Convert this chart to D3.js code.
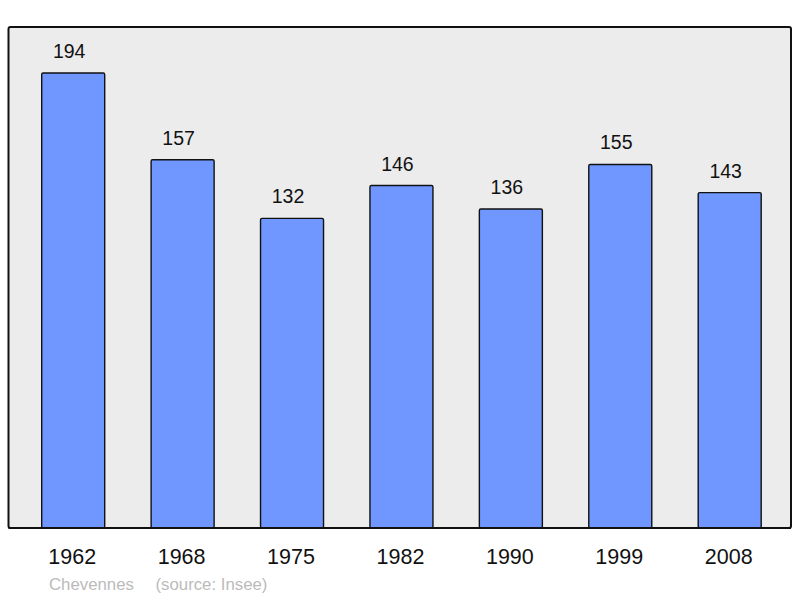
<!doctype html>
<html>
<head>
<meta charset="utf-8">
<script src="https://d3js.org/d3.v7.min.js"></script>
<style>
  body { margin: 0; background: #fff; }
  text { font-family: "Liberation Sans", Arial, sans-serif; }
</style>
</head>
<body>
<svg class="chart"></svg>
<script>
    var years = ["1962", "1968", "1975", "1982", "1990", "1999", "2008"];
    var population = [194, 157, 132, 146, 136, 155, 143];
    var commune = "Chevennes";
    var source = "(source: Insee)";

    var width = 800, height = 598;
    var frame = {left: 8.5, top: 27, right: 791, bottom: 528};

    var svg = d3.select(".chart").attr("width", width).attr("height", height);

    var xScale = d3.scalePoint().domain(years).range([73.2, 729.7]);
    var yScale = d3.scaleLinear().domain([0, 213.6]).range([frame.bottom, frame.top]);
    var barWidth = 63;

    svg.append("rect")
        .attr("x", frame.left)
        .attr("y", frame.top)
        .attr("width", frame.right - frame.left)
        .attr("height", frame.bottom - frame.top)
        .attr("rx", 2)
        .attr("fill", "#ececec")
        .attr("stroke", "#111")
        .attr("stroke-width", 2);

    var data = years.map(function(y, i) { return {year: y, value: population[i]}; });

    svg.selectAll("rect.bar")
        .data(data)
        .enter().append("rect")
        .attr("class", "bar")
        .attr("x", d => xScale(d.year) - barWidth / 2)
        .attr("y", d => yScale(d.value))
        .attr("width", barWidth)
        .attr("height", d => frame.bottom - yScale(d.value))
        .attr("rx", 1.5)
        .attr("fill", "#7097ff")
        .attr("stroke", "#111")
        .attr("stroke-width", 1.4);

    svg.selectAll("text.val")
        .data(data)
        .enter().append("text")
        .attr("class", "val")
        .attr("x", d => xScale(d.year) - 4)
        .attr("y", d => yScale(d.value) - 15)
        .attr("text-anchor", "middle")
        .attr("font-size", 19.5)
        .attr("fill", "#111")
        .text(d => d.value);

    // redraw frame edge over bar bottoms
    svg.append("line")
        .attr("x1", frame.left).attr("x2", frame.right)
        .attr("y1", frame.bottom).attr("y2", frame.bottom)
        .attr("stroke", "#111").attr("stroke-width", 2);

    svg.selectAll("text.year")
        .data(years)
        .enter().append("text")
        .attr("class", "year")
        .attr("x", d => xScale(d) - 1)
        .attr("y", 563.5)
        .attr("text-anchor", "middle")
        .attr("font-size", 21.5)
        .attr("fill", "#111")
        .text(d => d);

    svg.append("text")
        .attr("x", 49).attr("y", 589.5)
        .attr("font-size", 16.8)
        .attr("fill", "#bbb")
        .text(commune);

    svg.append("text")
        .attr("x", 155.5).attr("y", 589.5)
        .attr("font-size", 16.8)
        .attr("fill", "#bbb")
        .text(source);
</script>
</body>
</html>
